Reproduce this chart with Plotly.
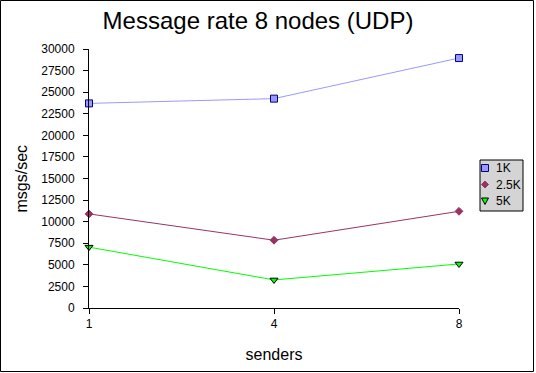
import plotly.graph_objects as go

senders = ["1", "4", "8"]
series_names = ["1K", "2.5K", "5K"]
rate_1k = [23700, 24250, 28950]
rate_2_5k = [10900, 7850, 11200]
rate_5k = [7050, 3250, 5100]
y_ticks = list(range(0, 30001, 2500))

W, H = 536, 373
L, R, T, B = 89, 77, 49, 65
pw, ph = W - L - R, H - T - B


def px(x):
    return (x - L) / pw


def py(y):
    return 1 - (y - T) / ph


styles = [
    dict(color="#9999ff", symbol="square", size=7, mline="#000080"),
    dict(color="#993366", symbol="diamond", size=6, mline="#993366"),
    dict(color="#00ff00", symbol="triangle-down", size=7, mline="#000000"),
]

fig = go.Figure()
for name, vals, st in zip(series_names, [rate_1k, rate_2_5k, rate_5k], styles):
    fig.add_trace(go.Scatter(
        x=senders, y=vals, name=name, mode="lines+markers", showlegend=False,
        line=dict(color=st["color"], width=1),
        marker=dict(symbol=st["symbol"], size=st["size"], color=st["color"],
                    line=dict(color=st["mline"], width=1)),
        cliponaxis=False, hoverinfo="skip",
    ))

# legend box drawn in paper coordinates
leg_x0, leg_x1, leg_y0, leg_y1 = 480, 523, 160, 211
leg_rows = [168, 184.5, 201]
fig.add_shape(type="rect", xref="paper", yref="paper",
              x0=px(leg_x0), x1=px(leg_x1), y0=py(leg_y1), y1=py(leg_y0),
              line=dict(color="black", width=1), fillcolor="#d4d4d4", layer="above")
sym_paths = {
    "square": "M-3.5,-3.5 L3.5,-3.5 L3.5,3.5 L-3.5,3.5 Z",
    "diamond": "M0,3.5 L3.5,0 L0,-3.5 L-3.5,0 Z",
    "triangle-down": "M-3.5,3 L3.5,3 L0,-3.5 Z",
}
for name, st, yy in zip(series_names, styles, leg_rows):
    fig.add_shape(type="path", xref="paper", yref="paper",
                  xsizemode="pixel", ysizemode="pixel",
                  xanchor=px(485), yanchor=py(yy), path=sym_paths[st["symbol"]],
                  line=dict(color=st["mline"], width=1), fillcolor=st["color"], layer="above")
    fig.add_annotation(x=px(494), y=py(yy), xref="paper", yref="paper", text=name,
                       showarrow=False, xanchor="left", yanchor="middle",
                       font=dict(size=12))

font = "Liberation Sans, Arial, sans-serif"
fig.update_layout(
    width=W, height=H,
    margin=dict(l=L, r=R, t=T, b=B, autoexpand=False),
    paper_bgcolor="white", plot_bgcolor="white",
    font=dict(family=font, size=12, color="black"),
    title=dict(text="Message rate 8 nodes (UDP)", x=258 / W, xanchor="center",
               y=1 - 21 / H, yanchor="middle",
               font=dict(size=24, family=font, color="black")),
    showlegend=False,
    xaxis=dict(type="category", range=[0, 2], showgrid=False, zeroline=False,
               showline=True, linecolor="black", linewidth=1,
               ticks="outside", ticklen=5, tickcolor="black",
               tickfont=dict(size=12), title=dict(text="senders", font=dict(size=16), standoff=18)),
    yaxis=dict(range=[0, 30000], tickvals=y_ticks, ticktext=[str(v) for v in y_ticks],
               showgrid=False, zeroline=False, showline=True, linecolor="black", linewidth=1,
               ticks="outside", ticklen=5, tickcolor="black", ticklabelstandoff=6,
               tickfont=dict(size=12)),
)

fig.add_annotation(x=px(21), y=py((T + H - B) / 2), xref="paper", yref="paper", text="msgs/sec",
                   textangle=-90, showarrow=False, font=dict(size=16),
                   xanchor="center", yanchor="middle")

fig.add_shape(type="rect", xref="paper", yref="paper",
              x0=px(0.5), x1=px(W - 2.5), y0=py(H - 1.5), y1=py(0.5),
              line=dict(color="black", width=1), fillcolor="rgba(0,0,0,0)", layer="below")

fig.write_html("out.html", config={"displayModeBar": False},
               post_script="document.body.style.margin='0';document.body.style.overflow='hidden';")
